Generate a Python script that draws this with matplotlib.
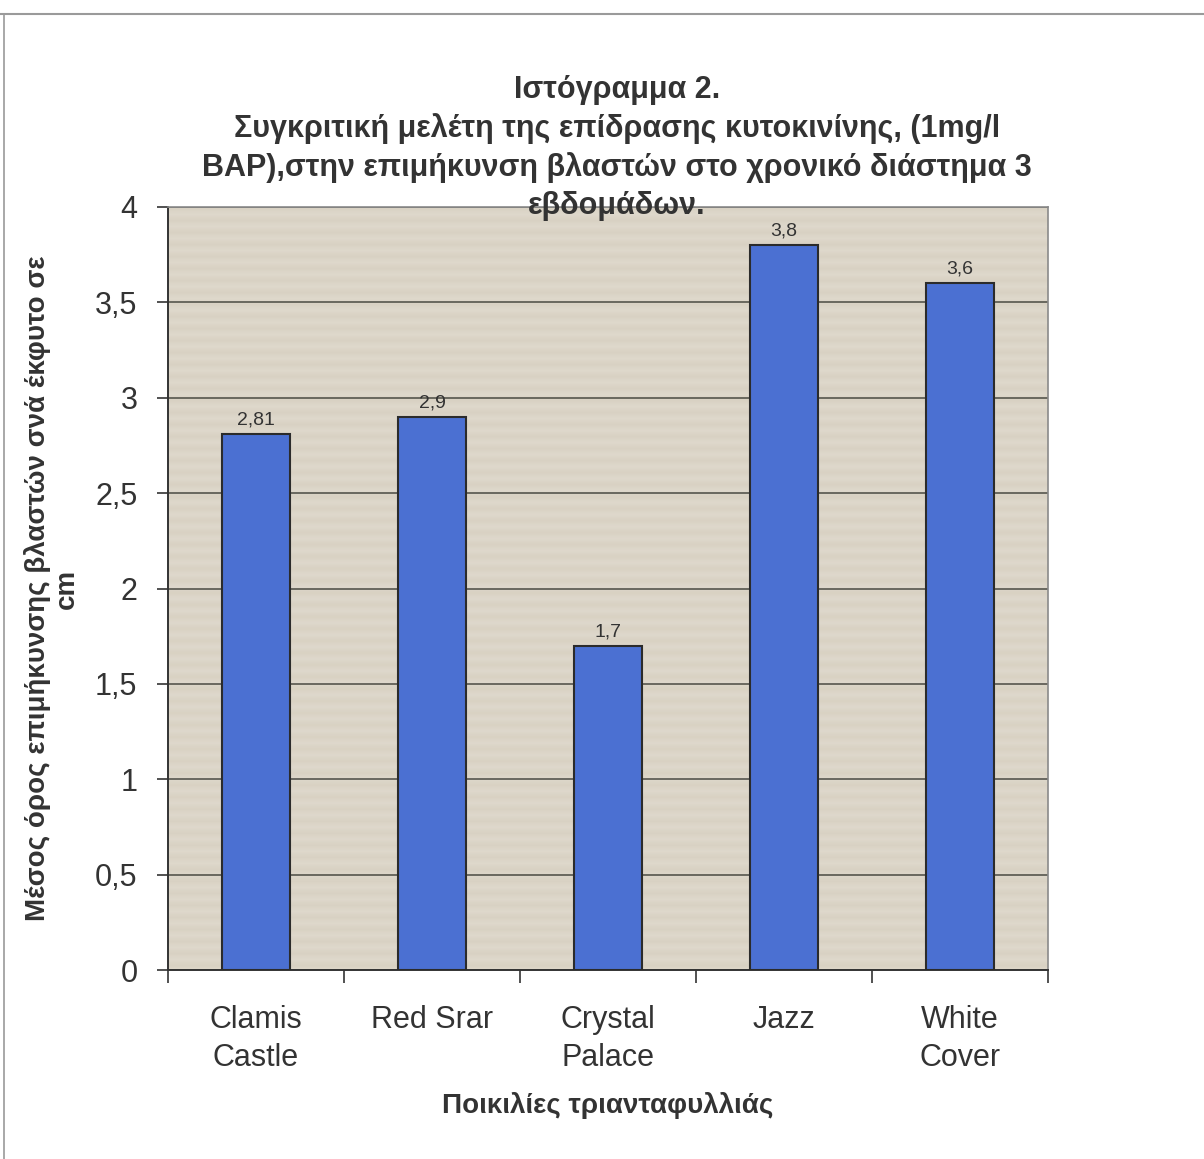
import matplotlib
matplotlib.use("Agg")
import matplotlib.pyplot as plt
import numpy as np
from matplotlib.lines import Line2D

categories = ["Clamis\nCastle", "Red Srar", "Crystal\nPalace", "Jazz", "White\nCover"]
values = [2.81, 2.9, 1.7, 3.8, 3.6]
value_labels = ["2,81", "2,9", "1,7", "3,8", "3,6"]
yticks = [0, 0.5, 1, 1.5, 2, 2.5, 3, 3.5, 4]
ytick_labels = ["0", "0,5", "1", "1,5", "2", "2,5", "3", "3,5", "4"]

title = ("Ιστόγραμμα 2.\n"
         "Συγκριτική μελέτη της επίδρασης κυτοκινίνης, (1mg/l\n"
         "BAP),στην επιμήκυνση βλαστών στο χρονικό διάστημα 3\n"
         "εβδομάδων.")
ylabel = "Μέσος όρος επιμήκυνσης βλαστών σνά έκφυτο σε\ncm"
xlabel = "Ποικιλίες τριανταφυλλιάς"

plt.rcParams['font.family'] = ['Liberation Sans', 'DejaVu Sans']
text_color = "#333333"

fig = plt.figure(figsize=(12.04, 11.59), dpi=100)
ax = fig.add_axes([168/1204, 1 - 970/1159, (1048-168)/1204, (970-207)/1159])

# textured beige plot area: fine horizontal banding
rows = 254
band = np.array([0.0, 0.6, 1.0, 0.4])
pattern = np.tile(band, rows // 4 + 1)[:rows]
base = np.array([0.850, 0.822, 0.765])
light = np.array([0.872, 0.848, 0.800])
img = base[None, None, :] + (light - base)[None, None, :] * pattern[:, None, None]
img = np.repeat(img, 4, axis=1)
ax.imshow(img, extent=[-0.5, 4.5, 0, 4], aspect='auto', zorder=0, interpolation='bilinear')

x = np.arange(len(categories))
ax.bar(x, values, width=0.39, color="#4b70d2", edgecolor="#2b2b2b", linewidth=1.5, zorder=3)

for xi, v, lab in zip(x, values, value_labels):
    ax.annotate(lab, (xi, v), xytext=(0, 4), textcoords='offset points',
                ha='center', va='bottom', fontsize=14, color=text_color, zorder=4)

ax.set_xlim(-0.5, 4.5)
ax.set_ylim(0, 4)
ax.set_yticks(yticks)
ax.set_yticklabels(ytick_labels, fontsize=22, color=text_color)
ax.yaxis.grid(True, color="#4a4a42", linewidth=1.1, zorder=1)
ax.set_axisbelow(True)

ax.set_xticks(np.arange(-0.5, 5, 1))
ax.set_xticklabels([])
ax.set_xticks(x, minor=True)
ax.set_xticklabels(categories, minor=True, fontsize=22, color=text_color, linespacing=1.36)
ax.tick_params(axis='x', which='minor', length=0, pad=25)
ax.tick_params(axis='x', which='major', length=9, width=1.2, color="#333333", direction='out')
ax.tick_params(axis='y', length=8, width=1.2, color="#333333", direction='out', pad=14)

for side in ("left", "bottom"):
    ax.spines[side].set_color("#333333")
    ax.spines[side].set_linewidth(1.4)
for side in ("top", "right"):
    ax.spines[side].set_color("#8a8a8a")
    ax.spines[side].set_linewidth(1.2)

ax.set_ylabel(ylabel, fontsize=20, fontweight='bold', color=text_color, linespacing=1.15)
ax.yaxis.set_label_coords(-(168 - 80) / 880, 0.5)
ax.set_xlabel(xlabel, fontsize=20, fontweight='bold', color=text_color, labelpad=14)

fig.text(0.5 + 15/1204, 1 - 148/1159, title, ha='center', va='center', fontsize=22,
         fontweight='bold', color=text_color, linespacing=1.33)

# page border lines
fig.add_artist(Line2D([0, 1], [1 - 14/1159, 1 - 14/1159], transform=fig.transFigure,
                      color="#9a9a9a", linewidth=1.5))
fig.add_artist(Line2D([4/1204, 4/1204], [0, 1 - 14/1159], transform=fig.transFigure,
                      color="#9a9a9a", linewidth=1.2))

fig.savefig("out.png", dpi=100, facecolor="white")
